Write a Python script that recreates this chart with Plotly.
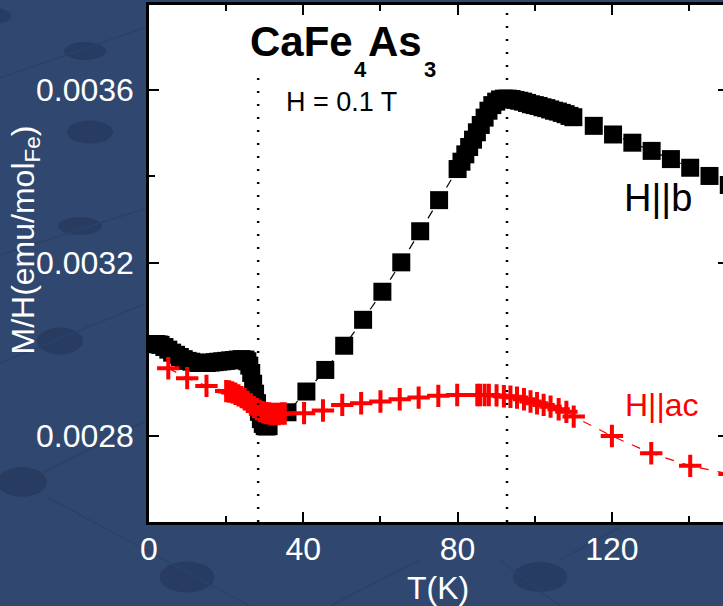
import plotly.graph_objects as go

# ---------------- data ----------------
# H || b  (black squares)
T_b = [1.8, 2.5, 3, 4, 5, 6, 7, 8, 9, 10, 11, 12, 13, 14, 15, 16, 17, 18, 19, 20,
       21, 22, 23, 24, 25, 25.5, 26, 26.5, 27, 27.5, 28, 28.5, 29, 29.5, 30, 30.5, 31,
       35.9, 40.8, 45.7, 50.6, 55.5, 60.5, 65.4, 70.3, 75.2,
       80, 81, 82, 83, 84, 85, 86, 87, 88, 89, 90, 91, 92, 93, 94, 95, 96, 97, 98, 99,
       100, 101, 102, 103, 104, 105, 106, 107, 108, 109, 110,
       115.3, 120.3, 125.3, 130.3, 135.3, 140.3, 145.3, 150.3]
M_b = [0.003012, 0.003011, 0.003010, 0.003005, 0.002999, 0.002992, 0.002987, 0.002982, 0.002977, 0.002973,
       0.002971, 0.002969, 0.002968, 0.002968, 0.002968, 0.002969, 0.002970, 0.002971, 0.002972, 0.002973,
       0.002974, 0.002975, 0.002976, 0.002977, 0.002976, 0.002972, 0.002962, 0.002945, 0.002920, 0.002897,
       0.002875, 0.002855, 0.002838, 0.002827, 0.002822, 0.002821, 0.002822,
       0.002854, 0.002902, 0.002952, 0.003008, 0.003068, 0.003133, 0.003201, 0.003273, 0.003345,
       0.003417, 0.003434, 0.003451, 0.003468, 0.003485, 0.003502, 0.003519, 0.003536, 0.003552, 0.003565,
       0.003573, 0.003578, 0.003580, 0.003580, 0.003579, 0.003577, 0.003575, 0.003573, 0.003570, 0.003567,
       0.003565, 0.003563, 0.003560, 0.003558, 0.003555, 0.003552, 0.003550, 0.003547, 0.003544, 0.003540,
       0.003537,
       0.003517, 0.003497, 0.003478, 0.003459, 0.003440, 0.003420, 0.003401, 0.003380]

# H || ac  (red crosses)
T_ac = [5.0, 9.9, 14.9,
        20, 20.8, 21.6, 22.4, 23.2, 24, 24.8, 25.6, 26.4, 27.2, 28, 28.8, 29.6, 30.4, 31.2, 32,
        32.8, 33.6, 34.4, 35.2,
        40.2, 45.1, 50.1, 55.0, 60.0, 65.0, 69.9, 75.0, 79.9,
        85.1, 85.8, 87.0, 88.1, 90.1, 92.0, 93.7, 95.4, 97.2, 98.9, 100.6, 102.3, 104.1, 106.2,
        108.2, 110.1,
        120.0, 130.2, 140.3, 150.5]
M_ac = [0.002956, 0.002933, 0.002915,
        0.002903, 0.002902, 0.002900, 0.002897, 0.002893, 0.002889, 0.002884, 0.002878, 0.002872,
        0.002866, 0.002861, 0.002857, 0.002854, 0.002852, 0.002851, 0.002850,
        0.002850, 0.002850, 0.002851, 0.002851,
        0.002852, 0.002858, 0.002871, 0.002875, 0.002879, 0.002884, 0.002888, 0.002892, 0.002894,
        0.002894, 0.002894, 0.002894, 0.002894, 0.002893, 0.002891, 0.002890, 0.002888, 0.002884,
        0.002879, 0.002875, 0.002871, 0.002867, 0.002861, 0.002855, 0.002844,
        0.002799, 0.002759, 0.002730, 0.002711]

transition_T = [28.3, 92.8]
transition_top = [0.003628, 0.0037967]

x_ticks = [0, 40, 80, 120]
x_minor = [20, 60, 100, 140]
y_ticks = [0.0028, 0.0032, 0.0036]
y_minor = [0.0030, 0.0034]
x_range = [0, 148.8]
y_range = [0.0026, 0.0037967]

W, H = 723, 606
ML, MR, MT, MB = 149, 0, 5, 84
PW, PH = W - ML - MR, H - MT - MB


def px(xp):
    return (xp - ML) / PW


def py(yp):
    return (H - MB - yp) / PH


BG = '#30486F'
SPOT = '#283C62'
FONT = 'Arial, Liberation Sans, sans-serif'

fig = go.Figure()
fig.add_trace(go.Scatter(
    x=T_b, y=M_b, mode='lines+markers',
    line=dict(color='black', width=1.2, dash='dash'),
    marker=dict(symbol='square', size=18, color='black', line=dict(width=0)),
    showlegend=False))
fig.add_trace(go.Scatter(
    x=T_ac, y=M_ac, mode='lines+markers',
    line=dict(color='red', width=1.2, dash='dash'),
    marker=dict(symbol='cross-thin', size=16, color='red', line=dict(color='red', width=4)),
    showlegend=False))
# empty trace so that the right-hand (mirror) tick axis is drawn
fig.add_trace(go.Scatter(x=[], y=[], yaxis='y2', showlegend=False, hoverinfo='skip'))

shapes = []
for tx, top in zip(transition_T, transition_top):
    shapes.append(dict(type='line', xref='x', yref='y', x0=tx, x1=tx, y0=y_range[0], y1=top,
                       line=dict(color='black', width=2.5, dash='2px,11px'), layer='above'))

# background texture (decorative spots and faint lines in the margins)
spots = [(85, 51, 42, 18), (90, 132, 46, 23), (80, 226, 44, 18), (60, 341, 46, 27),
         (22, 482, 50, 30), (187, 577, 55, 31), (540, 577, 55, 30), (-12, 16, 46, 18)]
for cx, cy, w, h in spots:
    shapes.append(dict(type='circle', xref='paper', yref='paper',
                       x0=px(cx - w / 2), x1=px(cx + w / 2), y0=py(cy + h / 2), y1=py(cy - h / 2),
                       fillcolor=SPOT, line=dict(width=0), layer='below'))
faint = [((0, 78), (147, 27)), ((0, 255), (147, 208)), ((0, 363), (147, 303)),
         ((43, 473), (147, 420)), ((47, 497), (250, 606)), ((330, 606), (420, 560)),
         ((500, 560), (560, 606)), ((560, 560), (620, 527))]
for (x0, y0), (x1, y1) in faint:
    shapes.append(dict(type='line', xref='paper', yref='paper', x0=px(x0), y0=py(y0),
                       x1=px(x1), y1=py(y1), line=dict(color='#2B4168', width=1.5), layer='below'))

title_parts = [  # (text, left px, cap-top px, font size)
    ('CaFe', 248, 25, 42), ('4', 352, 60, 22), ('As', 366, 25, 42), ('3', 422, 60, 22)]
annotations = []
for txt, lx, ct, fs in title_parts:
    annotations.append(dict(text='<b>%s</b>' % txt, x=px(lx), y=py(ct - 0.189 * fs - 1),
                            xref='paper', yref='paper', xanchor='left', yanchor='top',
                            showarrow=False, font=dict(size=fs, color='black', family=FONT)))

annotations += [
    dict(text='H = 0.1 T', x=34.9, y=0.0035722, xref='x', yref='y', xanchor='left', yanchor='middle',
         showarrow=False, font=dict(size=27, color='black', family=FONT)),
    dict(text='H||b', x=122.6, y=0.003350, xref='x', yref='y', xanchor='left', yanchor='middle',
         showarrow=False, font=dict(size=38, color='black', family=FONT)),
    dict(text='H||ac', x=123.0, y=0.002871, xref='x', yref='y', xanchor='left', yanchor='middle',
         showarrow=False, font=dict(size=32, color='red', family=FONT)),
    dict(text='T(K)', x=px(438), y=py(588), xref='paper', yref='paper', xanchor='center',
         yanchor='middle', showarrow=False, font=dict(size=32, color='white', family=FONT)),
    dict(text='M/H(emu/mol<sub>Fe</sub>)', x=px(2), y=py(240), xref='paper', yref='paper',
         xanchor='left', yanchor='middle', textangle=-90, showarrow=False,
         font=dict(size=32, color='white', family=FONT)),
]

fig.update_layout(
    width=W, height=H, margin=dict(l=ML, r=MR, t=MT, b=MB, pad=0),
    paper_bgcolor=BG, plot_bgcolor='white', showlegend=False,
    font=dict(family=FONT, color='white'),
    shapes=shapes, annotations=annotations,
    xaxis=dict(range=x_range, showgrid=False, zeroline=False, showline=True, linecolor='black',
               linewidth=2.5, mirror='ticks', ticks='inside', ticklen=10, tickwidth=2,
               tickcolor='black', tickvals=x_ticks, ticktext=[str(v) for v in x_ticks],
               ticklabelstandoff=-3,
               tickfont=dict(size=32, color='white', family=FONT),
               minor=dict(tickvals=x_minor, ticks='inside', ticklen=6, tickwidth=2, tickcolor='black')),
    yaxis=dict(range=y_range, showgrid=False, zeroline=False, showline=True, linecolor='black',
               linewidth=2.5, ticks='inside', ticklen=10, tickwidth=2, tickcolor='black',
               tickvals=y_ticks, ticktext=['%.4f' % v for v in y_ticks], ticklabelstandoff=6,
               tickfont=dict(size=32, color='white', family=FONT),
               minor=dict(tickvals=y_minor, ticks='inside', ticklen=6, tickwidth=2, tickcolor='black')),
    yaxis2=dict(range=y_range, overlaying='y', side='right', anchor='x', showgrid=False,
                zeroline=False, showline=False, ticks='inside', ticklen=5, tickwidth=2,
                tickcolor='black', tickvals=y_ticks, showticklabels=False),
)

fig.write_html('out.html')
